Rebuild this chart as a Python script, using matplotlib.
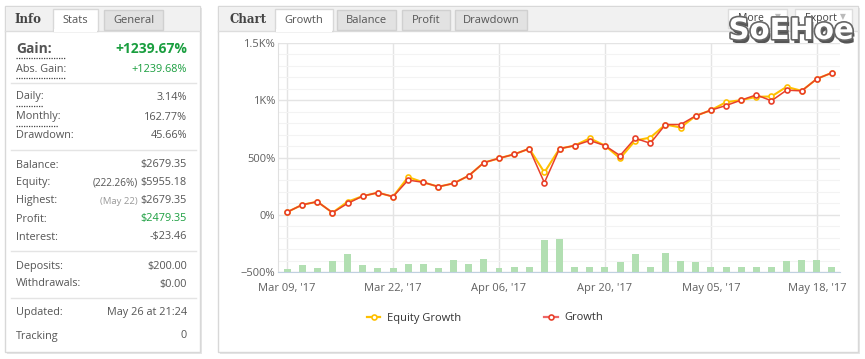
import matplotlib
matplotlib.use("Agg")
import matplotlib.pyplot as plt
import matplotlib.patheffects as pe
from matplotlib.patches import Rectangle
from matplotlib.lines import Line2D
import numpy as np

# growth series (in %)
growth = [23, 87, 114, 18, 99, 163, 193, 158, 303, 283, 245, 274, 341, 455, 493, 528, 577, 280, 577,
          604, 648, 604, 517, 668, 624, 788, 788, 864, 913, 954, 1001, 1047, 995, 1088, 1082, 1187, 1240]
equity_growth = [23, 87, 114, 18, 114, 163, 193, 158, 329, 283, 245, 274, 341, 455, 493, 528, 577, 370, 577,
                 604, 668, 604, 493, 648, 674, 788, 762, 864, 913, 983, 1001, 1030, 1033, 1117, 1082, 1187, 1240]
# green bars at the bottom (height above the -500% floor)
bar_heights = [25, 60, 35, 96, 158, 60, 35, 35, 70, 70, 35, 103, 70, 112, 35, 40, 40, 278, 288,
               40, 40, 40, 83, 153, 40, 166, 94, 83, 40, 40, 48, 48, 48, 94, 103, 103, 48]
date_ticks = [0, 7, 14, 21, 28, 35]
date_labels = ["Mar 09, '17", "Mar 22, '17", "Apr 06, '17", "Apr 20, '17", "May 05, '17", "May 18, '17"]
y_ticks = [-500, 0, 500, 1000, 1500]
y_labels = ["\u2212500%", "0%", "500%", "1K%", "1.5K%"]

stats_rows = [
    ("Abs. Gain:", "+1239.68%", 69, "green"),
    ("Daily:", "3.14%", 97, None),
    ("Monthly:", "162.77%", 117, None),
    ("Drawdown:", "45.66%", 136, None),
    ("Balance:", "$2679.35", 165, None),
    ("Equity:", "$5955.18", 183, None),
    ("Highest:", "$2679.35", 201, None),
    ("Profit:", "$2479.35", 219, "green"),
    ("Interest:", "-$23.46", 237, None),
    ("Deposits:", "$200.00", 266, None),
    ("Withdrawals:", "$0.00", 284, None),
    ("Updated:", "May 26 at 21:24", 313, None),
    ("Tracking", "0", 336, None),
]

W, H = 865, 359
plt.rcParams['font.family'] = ['Open Sans', 'DejaVu Sans']
fig = plt.figure(figsize=(W / 100, H / 100), dpi=100)
fig.patch.set_facecolor("white")

# background axes in pixel coordinates for the panels
bg = fig.add_axes([0, 0, 1, 1])
bg.set_xlim(0, W)
bg.set_ylim(H, 0)
bg.axis("off")

TXT = "#555555"
GREEN = "#1a9e3f"


def panel(x0, x1, y0, y1):
    bg.add_patch(Rectangle((x0 + 2, y0 + 2), x1 - x0, y1 - y0, fc="#e6e6e6", ec="none", zorder=0))
    bg.add_patch(Rectangle((x0, y0), x1 - x0, y1 - y0, fc="white", ec="#d8d8d8", lw=1, zorder=1))
    bg.add_patch(Rectangle((x0 + 0.5, y0 + 0.5), x1 - x0 - 1, 24, fc="#f1f1f1", ec="none", zorder=1))
    bg.plot([x0, x1], [y0 + 25, y0 + 25], color="#dddddd", lw=1, zorder=2)


def tab(x0, x1, label, active):
    if active:
        bg.add_patch(Rectangle((x0, 9), x1 - x0, 22, fc="white", ec="#d8d8d8", lw=1, zorder=3))
        bg.add_patch(Rectangle((x0 + 0.8, 29), x1 - x0 - 1.6, 3, fc="white", ec="none", zorder=4))
    else:
        bg.add_patch(Rectangle((x0, 10), x1 - x0, 20, fc="#e2e2e2", ec="#d0d0d0", lw=1, zorder=3))
    bg.text((x0 + x1) / 2, 20.5, label, ha="center", va="center", fontsize=8, color=TXT, zorder=5)


# left info panel
panel(5, 200, 6, 352)
bg.text(14, 19.5, "Info", ha="left", va="center", fontsize=8.5, fontweight="bold", color="#444444",
        family="DejaVu Serif", zorder=5)
tab(53, 98, "Stats", True)
tab(104, 163, "General", False)

bg.text(16, 49, "Gain:", ha="left", va="center", fontsize=10, fontweight="bold", color=TXT, zorder=5)
bg.text(187, 49, "+1239.67%", ha="right", va="center", fontsize=10, fontweight="bold", color=GREEN, zorder=5)
for label, value, y, col in stats_rows:
    bg.text(16, y, label, ha="left", va="center", fontsize=7.8, color=TXT, zorder=5)
    bg.text(187, y, value, ha="right", va="center", fontsize=7.8,
            color=GREEN if col == "green" else TXT, zorder=5)
bg.text(138, 183, "(222.26%)", ha="right", va="center", fontsize=7.2, color=TXT, zorder=5)
bg.text(138, 201, "(May 22)", ha="right", va="center", fontsize=6.8, color="#999999", zorder=5)
for x0, x1, y in [(16, 65, 58), (16, 66, 78), (16, 43, 106), (16, 58, 126)]:
    bg.plot([x0, x1], [y, y], color="#444444", lw=0.9, ls=(0, (1, 1)), zorder=5)
for y in [83, 150, 251, 298]:
    bg.plot([11, 196], [y, y], color="#e4e4e4", lw=1, zorder=5)

# chart panel
panel(218, 858, 6, 352)
bg.text(229, 19.5, "Chart", ha="left", va="center", fontsize=8.5, fontweight="bold", color="#444444",
        family="DejaVu Serif", zorder=5)
tab(275, 333, "Growth", True)
tab(337, 396, "Balance", False)
tab(402, 450, "Profit", False)
tab(455, 527, "Drawdown", False)
for x0, x1, label in [(728, 787, "More"), (795, 852, "Export")]:
    bg.add_patch(Rectangle((x0, 9), x1 - x0, 19, fc="white", ec="#dddddd", lw=1, zorder=3))
    bg.text(x0 + 10, 18.5, label, ha="left", va="center", fontsize=7.5, color="#444444", zorder=5)
    bg.text(x1 - 9, 17.5, "\u25bc", ha="center", va="center", fontsize=5.5, color="#bbbbbb", zorder=5)
bg.text(791, 31, "SoEHoe", ha="center", va="center", fontsize=21, fontweight="heavy", color="white",
        family="DejaVu Sans", zorder=6,
        path_effects=[pe.withSimplePatchShadow(offset=(1.5, -3), shadow_rgbFace="#555555", alpha=1),
                      pe.withStroke(linewidth=2.4, foreground="#666666")])

# main chart axes: plot box 278..840 x, 43..272 y
ax = fig.add_axes([278 / W, 1 - 272 / H, (840 - 278) / W, (272 - 43) / H])
ax.set_facecolor("none")
x = np.arange(len(growth))
ax.set_xlim(-0.6, len(growth) - 0.47)
ax.set_ylim(-500, 1500)

ax.set_yticks(np.arange(-500, 1501, 100), minor=True)
ax.grid(which="minor", axis="y", color="#f3f3f3", lw=0.8)
ax.set_yticks(y_ticks)
ax.set_yticklabels(y_labels)
ax.set_xticks(date_ticks)
ax.set_xticklabels(date_labels)
ax.grid(which="major", color="#e4e4e4", lw=1)
ax.set_axisbelow(True)
ax.tick_params(axis="both", which="both", length=0, labelsize=8, labelcolor="#606060")
ax.tick_params(axis="y", pad=2)
ax.tick_params(axis="x", pad=8)
for side in ["top", "right"]:
    ax.spines[side].set_visible(False)
ax.spines["left"].set_color("#e0e0e0")
ax.spines["bottom"].set_color("#c0d0e0")

ax.bar(x, bar_heights, width=0.46, bottom=-500, color="#b2dfb2", zorder=2)
ax.plot(x, equity_growth, color="#ffc000", lw=1.5, marker="o", ms=3.6, mfc="white", mew=1.2,
        mec="#ffc000", zorder=3)
ax.plot(x, growth, color="#e8402a", lw=1.1, marker="o", ms=3.6, mfc="white", mew=1.2,
        mec="#e8402a", zorder=4)

handles = [Line2D([], [], color="#ffc000", lw=1.6, marker="o", ms=3.6, mfc="white", mec="#ffc000", mew=1.2),
           Line2D([], [], color="#ee6666", lw=1.6, marker="o", ms=3.6, mfc="white", mec="#e8402a", mew=1.2)]
fig.legend(handles, ["Equity Growth", "Growth"], loc="center", bbox_to_anchor=(485 / W, 1 - 318 / H),
           ncol=2, frameon=False, fontsize=8, handlelength=1.2, handletextpad=0.6, columnspacing=7.5,
           labelcolor="#333333")

fig.savefig("out.png", dpi=100, facecolor="white")
